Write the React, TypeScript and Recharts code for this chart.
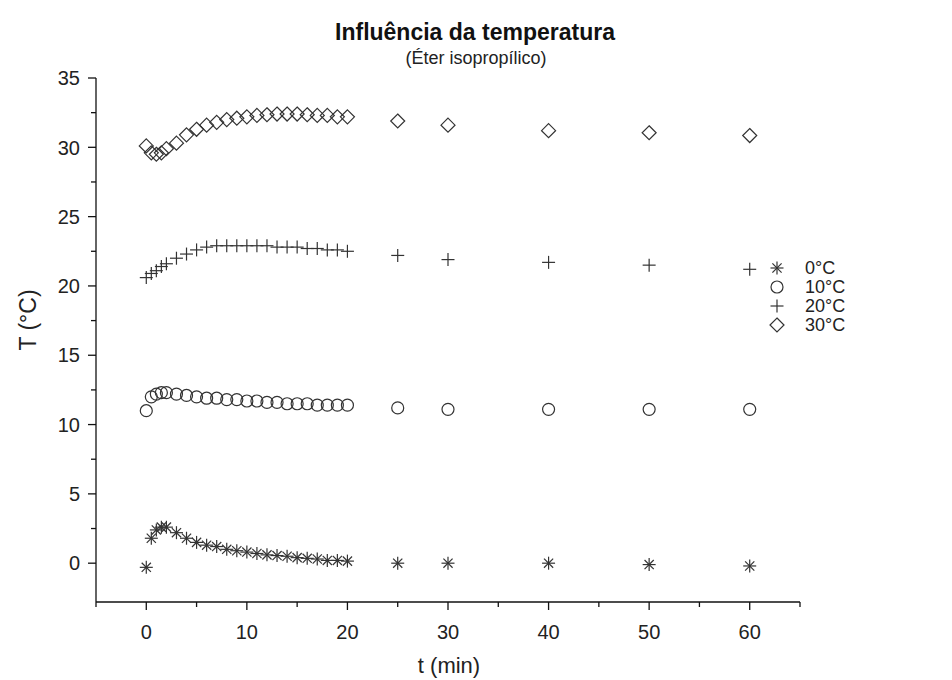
import React from 'react';
import { ScatterChart, Scatter, XAxis, YAxis, Legend } from 'recharts';

const times = [0, 0.5, 1, 1.5, 2, 3, 4, 5, 6, 7, 8, 9, 10, 11, 12, 13, 14, 15, 16, 17, 18, 19, 20, 25, 30, 40, 50, 60];
const temp0 = [-0.3, 1.8, 2.4, 2.6, 2.6, 2.2, 1.8, 1.5, 1.3, 1.2, 1.0, 0.9, 0.8, 0.7, 0.6, 0.55, 0.5, 0.4, 0.35, 0.3, 0.2, 0.2, 0.15, 0.0, 0.0, 0.0, -0.1, -0.2];
const temp10 = [11.0, 12.0, 12.2, 12.3, 12.3, 12.2, 12.1, 12.0, 11.9, 11.9, 11.8, 11.8, 11.7, 11.7, 11.6, 11.6, 11.5, 11.5, 11.5, 11.4, 11.4, 11.4, 11.4, 11.2, 11.1, 11.1, 11.1, 11.1];
const temp20 = [20.6, 20.9, 21.1, 21.4, 21.6, 22.0, 22.3, 22.6, 22.8, 22.9, 22.9, 22.9, 22.9, 22.9, 22.9, 22.8, 22.8, 22.8, 22.7, 22.7, 22.6, 22.6, 22.5, 22.2, 21.9, 21.7, 21.5, 21.2];
const temp30 = [30.1, 29.6, 29.5, 29.6, 29.9, 30.3, 30.9, 31.3, 31.6, 31.8, 32.0, 32.1, 32.2, 32.3, 32.35, 32.4, 32.4, 32.4, 32.35, 32.3, 32.3, 32.2, 32.2, 31.9, 31.6, 31.2, 31.05, 30.85];
const seriesNames = ['0°C', '10°C', '20°C', '30°C'];
const xTicks = [-5, 0, 5, 10, 15, 20, 25, 30, 35, 40, 45, 50, 55, 60, 65];
const yTicks = [0, 2.5, 5, 7.5, 10, 12.5, 15, 17.5, 20, 22.5, 25, 27.5, 30, 32.5, 35];
const xMajor = [0, 10, 20, 30, 40, 50, 60];
const titleText = 'Influência da temperatura';
const subtitleText = '(Éter isopropílico)';
const xLabel = 't (min)';
const yLabel = 'T (°C)';

const FONT = '"Liberation Sans", Arial, Helvetica, sans-serif';
const MARK = '#333333';
const AXIS = '#111111';

const toPoints = (vals: number[]) => times.map((t, i) => ({ t, T: vals[i] }));

type MP = { cx: number; cy: number };
const StarMark = ({ cx, cy }: MP) => {
  const r = 6.5;
  const d = r * 0.7071;
  return (
    <g stroke={MARK} strokeWidth={1.2} fill="none">
      <line x1={cx} y1={cy - r} x2={cx} y2={cy + r} />
      <line x1={cx - r} y1={cy} x2={cx + r} y2={cy} />
      <line x1={cx - d} y1={cy - d} x2={cx + d} y2={cy + d} />
      <line x1={cx - d} y1={cy + d} x2={cx + d} y2={cy - d} />
    </g>
  );
};
const CircleMark = ({ cx, cy }: MP) => (
  <circle cx={cx} cy={cy} r={6} stroke={MARK} strokeWidth={1.2} fill="none" />
);
const PlusMark = ({ cx, cy }: MP) => (
  <g stroke={MARK} strokeWidth={1.2}>
    <line x1={cx} y1={cy - 6.5} x2={cx} y2={cy + 6.5} />
    <line x1={cx - 6.5} y1={cy} x2={cx + 6.5} y2={cy} />
  </g>
);
const DiamondMark = ({ cx, cy }: MP) => (
  <path d={`M${cx},${cy - 7}L${cx + 7},${cy}L${cx},${cy + 7}L${cx - 7},${cy}Z`} stroke={MARK} strokeWidth={1.2} fill="none" />
);
const marks = [StarMark, CircleMark, PlusMark, DiamondMark];

const YTick = (props: any) => {
  const { x, y, payload } = props;
  const v = payload.value;
  const major = v % 5 === 0;
  return (
    <g>
      <line x1={x} y1={y} x2={x - (major ? 8 : 5)} y2={y} stroke={AXIS} strokeWidth={1.3} />
      {major && (
        <text x={x - 16} y={y} dy="0.36em" textAnchor="end" fontSize={20} fontFamily={FONT} fill="#222">
          {v}
        </text>
      )}
    </g>
  );
};

const XTick = (props: any) => {
  const { x, y, payload } = props;
  const v = payload.value;
  const major = xMajor.includes(v);
  return (
    <g>
      <line x1={x} y1={y} x2={x} y2={y + (major ? 8 : 5)} stroke={AXIS} strokeWidth={1.3} />
      {major && (
        <text x={x} y={y + 30} dy="0.36em" textAnchor="middle" fontSize={20} fontFamily={FONT} fill="#222">
          {v}
        </text>
      )}
    </g>
  );
};

const LegendContent = () => (
  <svg width={130} height={90}>
    {seriesNames.map((n, i) => {
      const M = marks[i];
      const cy = 12 + i * 19;
      return (
        <g key={n}>
          <M cx={17} cy={cy} />
          <text x={45} y={cy} dy="0.36em" fontSize={18} fontFamily={FONT} fill="#222">
            {n}
          </text>
        </g>
      );
    })}
  </svg>
);

const datasets = [temp0, temp10, temp20, temp30];

export default function App() {
  return (
    <div style={{ position: 'absolute', left: 0, top: 0, background: '#fff' }}>
      <ScatterChart width={952} height={680} margin={{ top: 78, right: 152, bottom: 18, left: 36 }}>
        <text x={475} y={32} dy="0.36em" textAnchor="middle" fontSize={23} fontWeight="bold" fontFamily={FONT} fill="#111">
          {titleText}
        </text>
        <text x={476} y={58} dy="0.36em" textAnchor="middle" fontSize={18} fontFamily={FONT} fill="#222">
          {subtitleText}
        </text>
        <text x={28} y={320} dy="0.36em" textAnchor="middle" fontSize={23} fontFamily={FONT} fill="#222" transform="rotate(-90 28 320)">
          {yLabel}
        </text>
        <text x={449} y={665} dy="0.36em" textAnchor="middle" fontSize={22} fontFamily={FONT} fill="#222">
          {xLabel}
        </text>
        <XAxis
          type="number"
          dataKey="t"
          domain={[-5, 65]}
          ticks={xTicks}
          interval={0}
          tickSize={0}
          tickMargin={0}
          tick={<XTick />}
          height={60}
          stroke={AXIS}
          strokeWidth={1.3}
          allowDataOverflow
        />
        <YAxis
          type="number"
          dataKey="T"
          domain={[-2.8, 35]}
          ticks={yTicks}
          interval={0}
          tickSize={0}
          tickMargin={0}
          tick={<YTick />}
          width={60}
          stroke={AXIS}
          strokeWidth={1.3}
          allowDataOverflow
        />
        <Legend
          layout="vertical"
          align="center"
          verticalAlign="middle"
          content={<LegendContent />}
          wrapperStyle={{ left: 760, top: 256, width: 130, height: 90 }}
        />
        {datasets.map((vals, i) => {
          const M = marks[i];
          return (
            <Scatter
              key={seriesNames[i]}
              name={seriesNames[i]}
              data={toPoints(vals)}
              isAnimationActive={false}
              shape={(p: any) => <M cx={p.cx} cy={p.cy} />}
            />
          );
        })}
      </ScatterChart>
    </div>
  );
}
